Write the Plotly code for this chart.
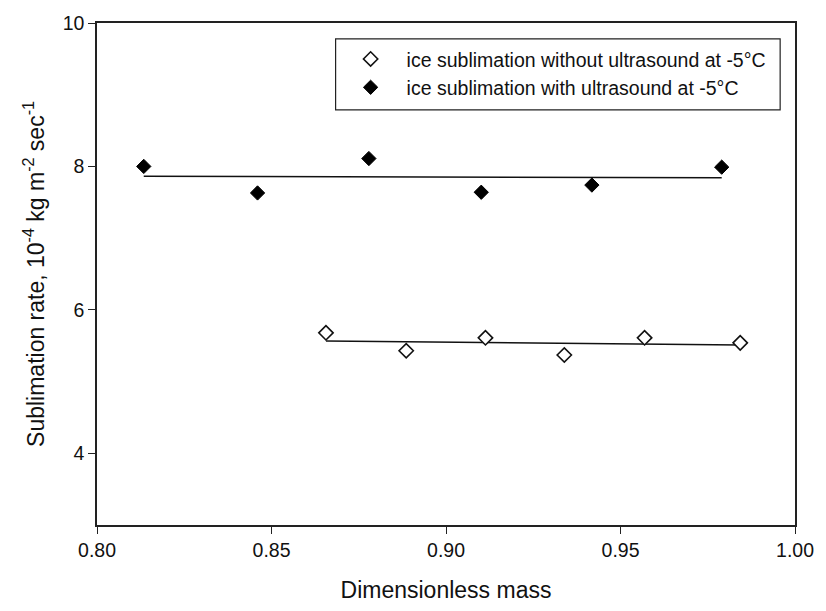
import numpy as np
import plotly.graph_objects as go

# Dimensionless mass and sublimation rate (10^-4 kg m^-2 s^-1)
mass_without = [0.8656, 0.8886, 0.9113, 0.9339, 0.9569, 0.9843]
rate_without = [5.68, 5.43, 5.61, 5.37, 5.61, 5.54]

mass_with = [0.8134, 0.8460, 0.8779, 0.9101, 0.9418, 0.9790]
rate_with = [8.00, 7.63, 8.11, 7.64, 7.74, 7.99]

label_without = "ice sublimation without ultrasound at -5°C"
label_with = "ice sublimation with ultrasound at -5°C"

x_ticks = [0.80, 0.85, 0.90, 0.95, 1.00]
y_ticks = [4, 6, 8, 10]

FONT = "Liberation Sans, Arial, sans-serif"


def linear_fit(x, y):
    slope, intercept = np.polyfit(x, y, 1)
    xs = [min(x), max(x)]
    return xs, [slope * v + intercept for v in xs]


fig = go.Figure()

# Least-squares trend lines
for xs, ys in (linear_fit(mass_with, rate_with), linear_fit(mass_without, rate_without)):
    fig.add_trace(go.Scatter(x=xs, y=ys, mode="lines", showlegend=False,
                             line=dict(color="#111111", width=1.5), hoverinfo="skip"))

fig.add_trace(go.Scatter(
    x=mass_without, y=rate_without, mode="markers", name=label_without,
    marker=dict(symbol="diamond", size=11, color="white",
                line=dict(color="#111111", width=1.6)),
))
fig.add_trace(go.Scatter(
    x=mass_with, y=rate_with, mode="markers", name=label_with,
    marker=dict(symbol="diamond", size=11, color="#000000",
                line=dict(color="#000000", width=1)),
))

axis_common = dict(
    showline=True, linecolor="#222222", linewidth=1.5, mirror=True,
    ticks="outside", ticklen=7, tickwidth=1.3, tickcolor="#222222",
    showgrid=False, zeroline=False,
    tickfont=dict(family=FONT, size=19.5, color="#111111"),
)

fig.update_xaxes(range=[0.80, 1.00], tickvals=x_ticks, tickformat=".2f",
                 title=dict(text="Dimensionless mass", standoff=22,
                            font=dict(family=FONT, size=23, color="#111111")),
                 **axis_common)
fig.update_yaxes(range=[3, 10], tickvals=y_ticks,
                 title=dict(text="Sublimation rate, 10<sup>-4</sup> kg m<sup>-2</sup> sec<sup>-1</sup>",
                            standoff=12,
                            font=dict(family=FONT, size=23, color="#111111")),
                 **axis_common)

# Legend frame
fig.add_shape(type="rect", xref="paper", yref="paper",
              x0=(338 - 97) / 705, x1=(787 - 97) / 705,
              y0=(525 - 104) / 509, y1=(525 - 32) / 509,
              line=dict(color="#222222", width=1.2), fillcolor="white", layer="below")

fig.update_layout(
    width=826, height=611,
    margin=dict(l=97, r=24, t=16, b=86),
    paper_bgcolor="white", plot_bgcolor="white",
    showlegend=True,
    legend=dict(x=(337 - 97) / 705, y=(525 - 33) / 509, xanchor="left", yanchor="top",
                bgcolor="rgba(0,0,0,0)", borderwidth=0,
                font=dict(family=FONT, size=19.5, color="#111111"),
                itemwidth=62, tracegroupgap=0),
)

fig.write_html("out.html")
